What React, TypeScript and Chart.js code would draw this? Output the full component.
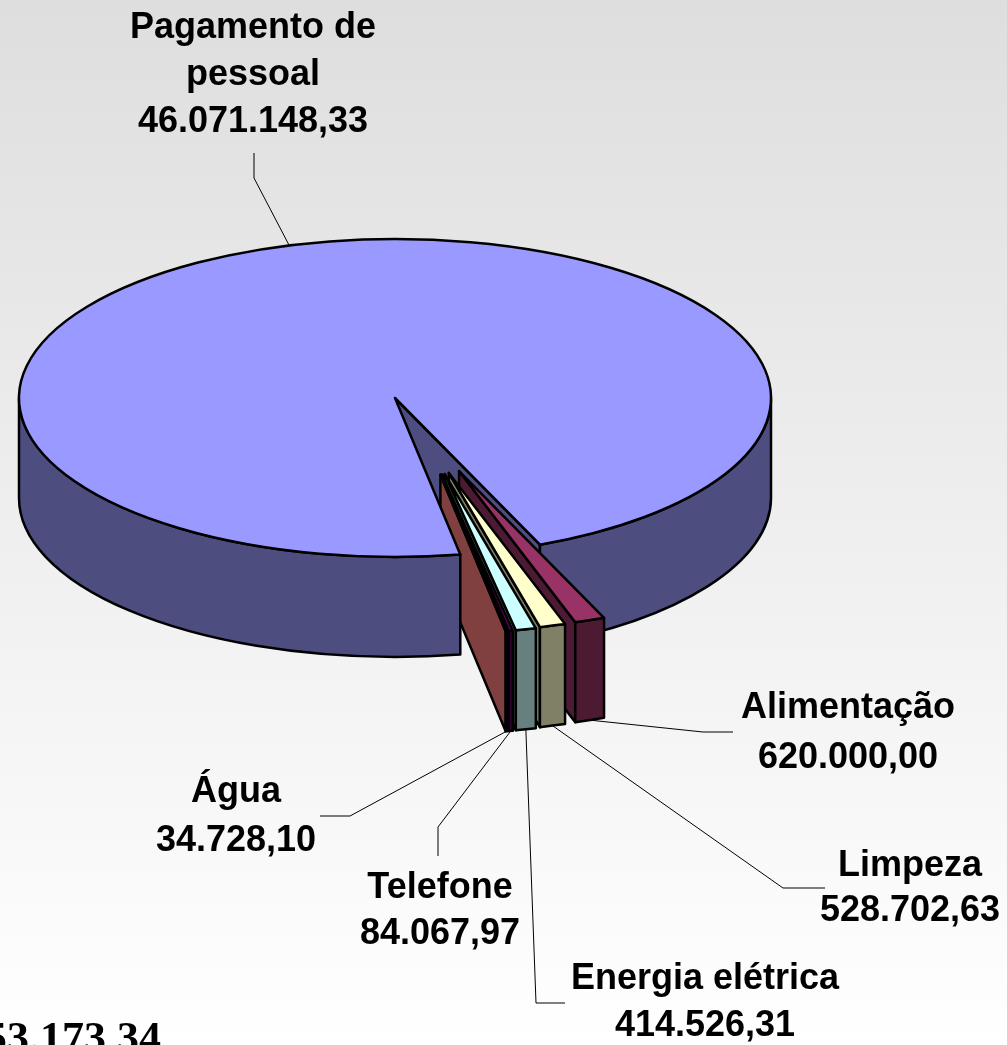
import React, { useEffect, useRef } from "react";
import { Chart, registerables } from "chart.js";

Chart.register(...registerables);

const categories = ["Pagamento de pessoal", "Alimentação", "Limpeza", "Energia elétrica", "Telefone", "Água"];
const values = [46071148.33, 620000.0, 528702.63, 414526.31, 84067.97, 34728.1];
const valueLabels = ["46.071.148,33", "620.000,00", "528.702,63", "414.526,31", "84.067,97", "34.728,10"];
const totalLabel = "47.753.173,34";

const topColors = ["#9999FF", "#993366", "#FFFFCC", "#CCFFFF", "#660066", "#FF8080"];
const wallColors = ["#4D4D80", "#4D1A33", "#808066", "#668080", "#330033", "#804040"];

// Layout constants (style only)
const W = 1007;
const H = 1045;
const CX = 395;
const CY = 398;
const RADIUS = 376;
const RY = 159;
const DEPTH = 100;
const explode = [0, 0.49, 0.49, 0.49, 0.49, 0.49];
const fanShift = [0, 0, 3, 10, 13, 13];
const labelLines = [
  ["Pagamento de", "pessoal"],
  ["Alimentação"],
  ["Limpeza"],
  ["Energia elétrica"],
  ["Telefone"],
  ["Água"],
];
const labelCenterX = [253, 848, 910, 705, 440, 236];
const labelFirstY = [28, 708, 866, 979, 888, 792];
const labelLineGap = [47, 50, 45, 47, 46, 49];
const leaderWaypoints: number[][][] = [
  [[254, 178], [254, 153]],
  [[703, 732], [733, 732]],
  [[783, 888], [825, 888]],
  [[536, 1003], [565, 1003]],
  [[438, 827], [438, 856]],
  [[350, 816], [320, 816]],
];

const pie3d = {
  id: "pie3d",
  beforeDraw(chart: any) {
    const { ctx } = chart;
    const g = ctx.createLinearGradient(0, 0, 0, H);
    g.addColorStop(0, "#DEDEDE");
    g.addColorStop(1, "#FFFFFF");
    ctx.save();
    ctx.fillStyle = g;
    ctx.fillRect(0, 0, W, H);
    ctx.restore();
  },
  beforeDatasetsDraw(chart: any) {
    const { ctx } = chart;
    const arcs = chart.getDatasetMeta(0).data as any[];
    const k = RY / RADIUS;

    const origin = (i: number) => {
      const a = arcs[i];
      const mid = (a.startAngle + a.endAngle) / 2;
      const d = explode[i] * a.outerRadius;
      return {
        x: CX + Math.cos(mid) * d + fanShift[i],
        y: CY + Math.sin(mid) * d * k,
      };
    };
    const stroke = (w = 2.5) => {
      ctx.strokeStyle = "#000";
      ctx.lineWidth = w;
      ctx.lineJoin = "round";
      ctx.stroke();
    };
    const outerWall = (i: number, from: number, to: number) => {
      const o = origin(i);
      const r = arcs[i].outerRadius;
      ctx.beginPath();
      ctx.ellipse(o.x, o.y, r, r * k, 0, from, to);
      ctx.ellipse(o.x, o.y + DEPTH, r, r * k, 0, to, from, true);
      ctx.closePath();
      ctx.fillStyle = wallColors[i];
      ctx.fill();
      stroke();
    };
    const cutFace = (i: number, angle: number) => {
      const o = origin(i);
      const r = arcs[i].outerRadius;
      const px = o.x + Math.cos(angle) * r;
      const py = o.y + Math.sin(angle) * r * k;
      ctx.beginPath();
      ctx.moveTo(o.x, o.y);
      ctx.lineTo(px, py);
      ctx.lineTo(px, py + DEPTH);
      ctx.lineTo(o.x, o.y + DEPTH);
      ctx.closePath();
      ctx.fillStyle = wallColors[i];
      ctx.fill();
      stroke();
    };
    const top = (i: number) => {
      const a = arcs[i];
      const o = origin(i);
      ctx.save();
      ctx.translate(o.x, o.y);
      ctx.scale(1, k);
      ctx.translate(-a.x, -a.y);
      a.draw(ctx);
      ctx.restore();
      ctx.beginPath();
      ctx.moveTo(o.x, o.y);
      ctx.ellipse(o.x, o.y, a.outerRadius, a.outerRadius * k, 0, a.startAngle, a.endAngle);
      ctx.closePath();
      stroke();
    };

    const big = arcs[0];
    const bigEnd = big.endAngle - Math.PI * 2;
    // right part of the large slice sits behind the exploded slices
    cutFace(0, bigEnd);
    outerWall(0, 0, bigEnd);
    // exploded slices, right to left
    for (let i = 1; i < arcs.length; i++) {
      cutFace(i, arcs[i].endAngle);
      outerWall(i, arcs[i].startAngle, arcs[i].endAngle);
      top(i);
    }
    // left part and lid of the large slice cover them
    outerWall(0, big.startAngle, Math.PI);
    top(0);

    // leader lines
    ctx.save();
    ctx.strokeStyle = "#000";
    ctx.lineWidth = 1;
    arcs.forEach((a, i) => {
      const o = origin(i);
      const mid = (a.startAngle + a.endAngle) / 2;
      const sx = o.x + Math.cos(mid) * a.outerRadius;
      const sy = o.y + Math.sin(mid) * a.outerRadius * k + (i === 0 ? 0 : DEPTH);
      ctx.beginPath();
      ctx.moveTo(sx, sy);
      leaderWaypoints[i].forEach(([x, y]) => ctx.lineTo(x, y));
      ctx.stroke();
    });
    ctx.restore();
    return false;
  },
  afterDraw(chart: any) {
    const { ctx } = chart;
    ctx.save();
    ctx.fillStyle = "#000";
    ctx.textAlign = "center";
    ctx.textBaseline = "middle";
    ctx.font = 'bold 36px "Liberation Sans", Arial, sans-serif';
    categories.forEach((_, i) => {
      const lines = [...labelLines[i], valueLabels[i]];
      lines.forEach((t, j) => {
        ctx.fillText(t, labelCenterX[i], labelFirstY[i] + j * labelLineGap[i]);
      });
    });
    ctx.font = 'bold 44px "Liberation Serif", "Times New Roman", serif';
    ctx.textAlign = "right";
    ctx.textBaseline = "alphabetic";
    ctx.fillText(totalLabel, 161, 1052);
    ctx.restore();
  },
};

export default function App() {
  const ref = useRef<HTMLCanvasElement | null>(null);
  useEffect(() => {
    document.body.style.margin = "0";
    const chart = new Chart(ref.current as HTMLCanvasElement, {
      type: "pie",
      data: {
        labels: categories,
        datasets: [
          {
            data: values,
            backgroundColor: topColors,
            borderWidth: 0,
          },
        ],
      },
      options: {
        responsive: false,
        animation: false,
        rotation: 170,
        radius: RADIUS,
        layout: { padding: 0 },
        plugins: { legend: { display: false }, tooltip: { enabled: false } },
      } as any,
      plugins: [pie3d as any],
    });
    return () => chart.destroy();
  }, []);
  return <canvas ref={ref} width={W} height={H} style={{ display: "block" }} />;
}
